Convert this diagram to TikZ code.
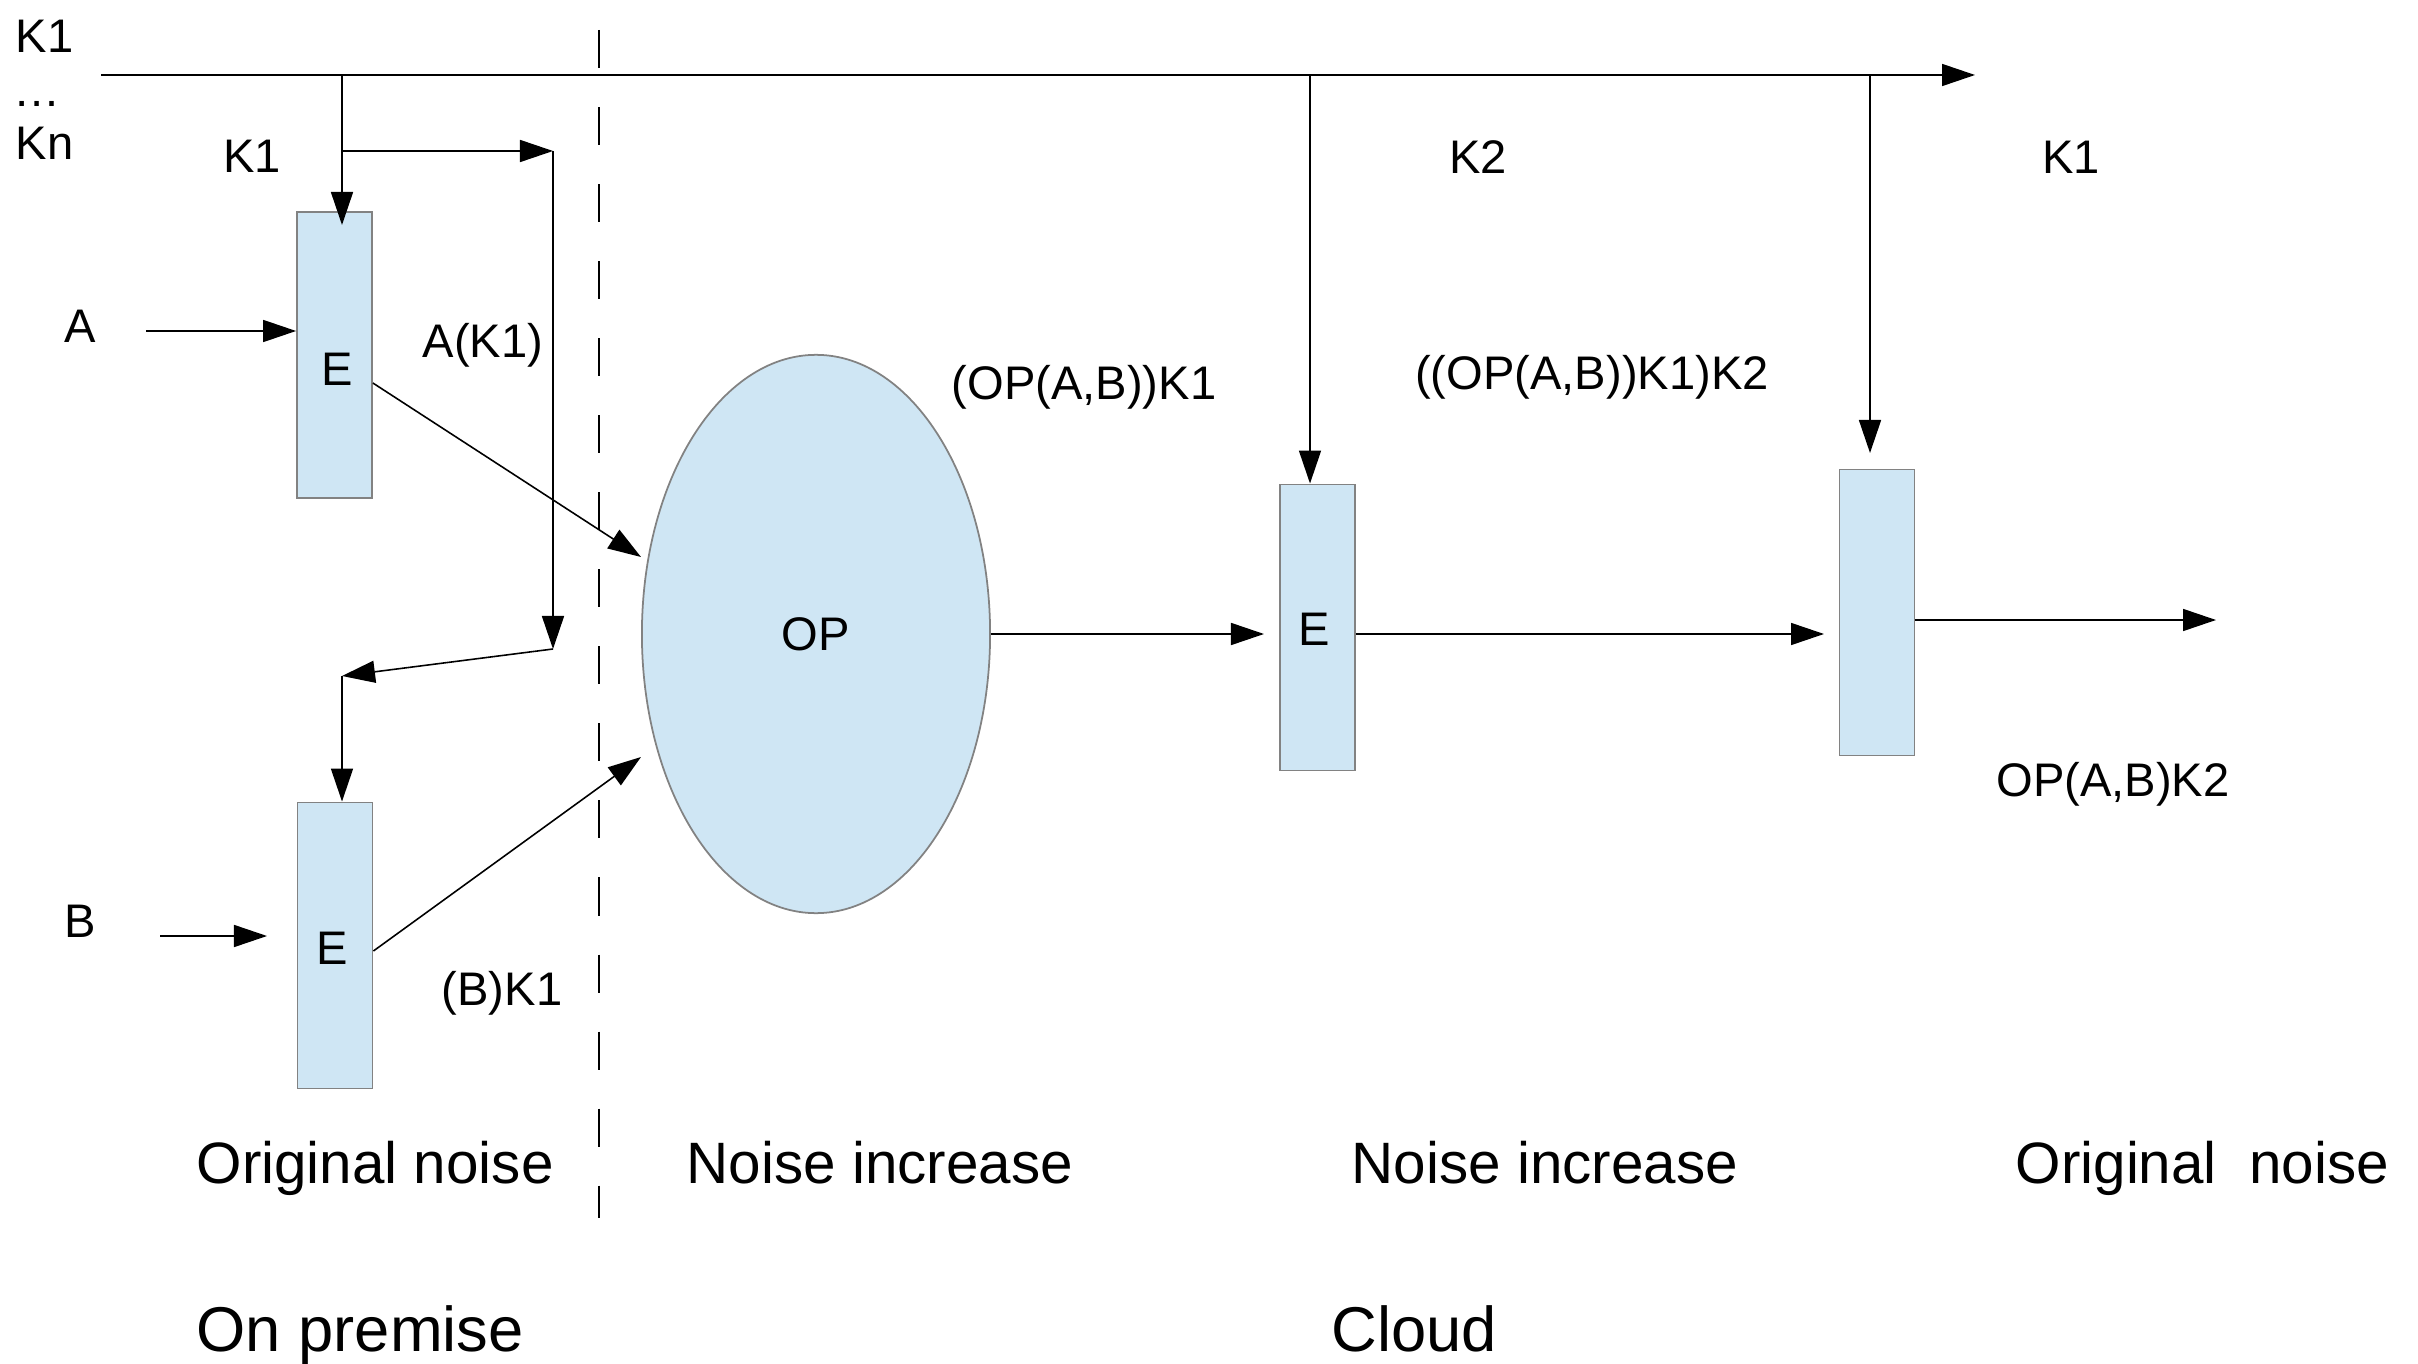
\documentclass[tikz,border=0pt]{standalone}
\usepackage{fontspec}
\setmainfont{Liberation Sans}
\usetikzlibrary{arrows.meta,shapes.geometric}
\definecolor{blockfill}{RGB}{207,230,244}
\definecolor{blockline}{RGB}{130,130,130}
\tikzset{
  conn/.style={line width=0.45pt,-{Triangle[length=0.33cm,width=0.22cm]}},
  block/.style={draw=blockline,fill=blockfill,line width=0.5pt,inner sep=0pt,
    minimum width=0.75cm,minimum height=2.86cm},
  opnode/.style={ellipse,draw=blockline,fill=blockfill,line width=0.5pt,inner sep=0pt,
    minimum width=3.48cm,minimum height=5.58cm,font=\fontsize{13.4pt}{16pt}\selectfont},
  lbl/.style={inner sep=0pt,anchor=base,font=\fontsize{13.4pt}{16pt}\selectfont},
  lblw/.style={inner sep=0pt,anchor=base west,font=\fontsize{13.4pt}{16pt}\selectfont},
  head/.style={inner sep=0pt,anchor=base west,font=\fontsize{16.6pt}{20pt}\selectfont},
  zone/.style={inner sep=0pt,anchor=base west,font=\fontsize{18pt}{22pt}\selectfont},
  divider/.style={line width=0.5pt,dash pattern=on 0.38cm off 0.39cm}
}
\begin{document}
\begin{tikzpicture}[x=0.01cm,y=-0.01cm]
\useasboundingbox (0,0) rectangle (2418,1364);

% key list
\node[lblw] (kfirst) at (15,53) {K1};
\node[lblw] (kdots) at (13,107) {…};
\node[lblw] (klast) at (15,160) {Kn};

% key bus
\coordinate (bus0) at (101,75);
\coordinate (bus1) at (1975,75);
\draw[conn] (bus0) -- (bus1);

% on premise / cloud divider
\coordinate (div0) at (599,30);
\coordinate (div1) at (599,1218);
\draw[divider] (div0) -- (div1);

% encryption blocks
\node[block] (e1) at (334.5,355) {};
\node[block] (e2) at (335,945.5) {};
\node[block] (e3) at (1317.5,627.5) {};
\node[block] (e4) at (1877,612.5) {};
\node[lbl] (e1t) at (337,386) {E};
\node[lbl] (e2t) at (332,964) {E};
\node[lbl] (e3t) at (1314,645) {E};

% homomorphic operation
\node[opnode] (op) at (816,634) {OP};

% inputs
\node[lbl] (la) at (80,343) {A};
\node[lbl] (lb) at (80,937) {B};
\coordinate (ain) at (146,331);
\draw[conn] (ain) -- (ain -| e1.west);
\coordinate (bin) at (160,936);
\coordinate (bend) at (267,936);
\draw[conn] (bin) -- (bend);

% K1 to the first block and around to the second
\coordinate (t1) at (342,75);
\coordinate (t1e) at (342,225);
\draw[conn] (t1) -- (t1e);
\node[lbl] (lk1) at (252,173) {K1};
\coordinate (j1) at (342,151);
\coordinate (j2) at (553,151);
\coordinate (j3) at (553,649);
\coordinate (j4) at (342,676);
\draw[conn] (j1) -- (j2);
\draw[conn] (j2) -- (j3);
\draw[conn] (j3) -- (j4);
\draw[conn] (j4) -- (j4 |- e2.north);

% encrypted operands into OP
\coordinate (opa) at (641,557);
\coordinate (opb) at (641,757);
\draw[conn] ([yshift=-0.28cm]e1.east) -- (opa);
\draw[conn] ([yshift=-0.055cm]e2.east) -- (opb);
\node[lbl] (lak1) at (483,358) {A(K1)};
\node[lbl] (lbk1) at (502,1005) {(B)K1};

% cloud side
\coordinate (e3in) at (1264,634);
\draw[conn] (op.east) -- (e3in);
\node[lbl] (lopk1) at (1084,400) {(OP(A,B))K1};
\coordinate (t2) at (1310,75);
\draw[conn] (t2) -- (t2 |- e3.north);
\node[lbl] (lk2) at (1478,174) {K2};
\coordinate (e4in) at (1824,634);
\draw[conn] (e3.east |- e4in) -- (e4in);
\node[lbl] (lopk12) at (1592,390) {((OP(A,B))K1)K2};
\coordinate (t3) at (1870,75);
\coordinate (t3e) at (1870,453);
\draw[conn] (t3) -- (t3e);
\node[lbl] (lk1r) at (2071,174) {K1};
\coordinate (out) at (2216,620);
\draw[conn] (e4.east |- out) -- (out);
\node[lbl] (lopk2) at (2113,796) {OP(A,B)K2};

% stage captions
\node[head] (h1) at (196,1183) {Original noise};
\node[head] (h2) at (686,1183) {Noise increase};
\node[head] (h3) at (1351,1183) {Noise increase};
\node[head] (h4) at (2015,1183) {Original~~noise};
\node[zone] (h5) at (196,1351) {On premise};
\node[zone] (h6) at (1331,1351) {Cloud};
\end{tikzpicture}
\end{document}
